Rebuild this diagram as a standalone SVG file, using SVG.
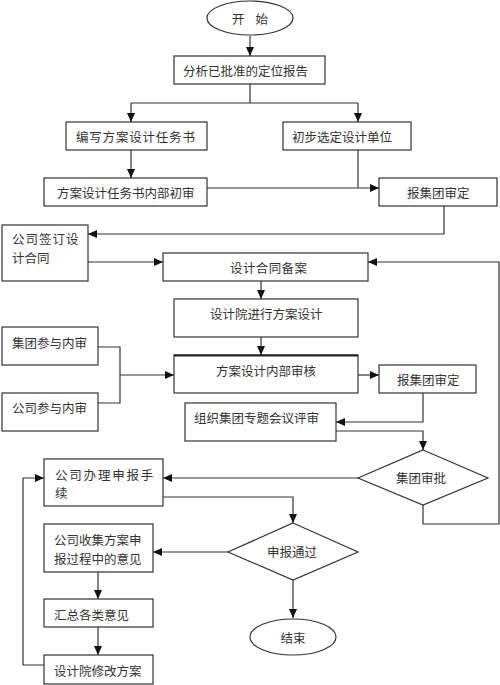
<svg xmlns="http://www.w3.org/2000/svg" width="500" height="685" viewBox="0 0 500 685">
<style>
.b{fill:#fff;stroke:#333;stroke-width:1.2}
.t{font-family:"Noto Sans CJK SC","Noto Sans CJK JP",sans-serif;font-size:12.5px;fill:#333;dominant-baseline:central}
.c{text-anchor:middle}
.l{fill:none;stroke:#333;stroke-width:1.2}
</style>
<defs>
<marker id="a" markerWidth="10" markerHeight="10" refX="9" refY="5" orient="auto" markerUnits="userSpaceOnUse"><path d="M0,1 L9,5 L0,9 Z" fill="#111"/></marker>
</defs>
<rect width="500" height="685" fill="#fff"/>
<g id="connectors">
<path class="l" d="M250,36 V56" marker-end="url(#a)"/>
<path class="l" d="M250,84 V103 M131,103 H358"/>
<path class="l" d="M131,103 V122" marker-end="url(#a)"/>
<path class="l" d="M358,103 V122" marker-end="url(#a)"/>
<path class="l" d="M131,150 V178" marker-end="url(#a)"/>
<path class="l" d="M358,150 V188"/>
<path class="l" d="M207,188 H379" marker-end="url(#a)"/>
<path class="l" d="M444,206 V234 H88" marker-end="url(#a)"/>
<path class="l" d="M88,262 H163" marker-end="url(#a)"/>
<path class="l" d="M261,281 V299" marker-end="url(#a)"/>
<path class="l" d="M261,337 V355" marker-end="url(#a)"/>
<path class="l" d="M98,347 H120 V403 H98"/>
<path class="l" d="M120,375 H174" marker-end="url(#a)"/>
<path class="l" d="M358,375 H379" marker-end="url(#a)"/>
<path class="l" d="M423,393 V422 H336" marker-end="url(#a)"/>
<path class="l" d="M336,431 H423 V450" marker-end="url(#a)"/>
<path class="l" d="M358,478 H163" marker-end="url(#a)"/>
<path class="l" d="M423,505 V524 H499 V262 H368" marker-end="url(#a)"/>
<path class="l" d="M163,497 H293 V523" marker-end="url(#a)"/>
<path class="l" d="M228,552 H153" marker-end="url(#a)"/>
<path class="l" d="M293,580 V618" marker-end="url(#a)"/>
<path class="l" d="M98,572 V599" marker-end="url(#a)"/>
<path class="l" d="M98,627 V655" marker-end="url(#a)"/>
<path class="l" d="M44,665 H23 V478 H44" marker-end="url(#a)"/>
</g>
<g id="start"><ellipse class="b" cx="250" cy="18" rx="43" ry="17"/><text class="t c" x="250" y="18" style="word-spacing:8px">开 始</text></g>
<g id="n1"><rect class="b" x="174" y="56" width="151" height="28"/><text class="t" x="183" y="70">分析已批准的定位报告</text></g>
<g id="n2"><rect class="b" x="66" y="122" width="141" height="28"/><text class="t" x="76" y="136" style="letter-spacing:0.8px">编写方案设计任务书</text></g>
<g id="n3"><rect class="b" x="283" y="122" width="128" height="28"/><text class="t" x="292" y="136">初步选定设计单位</text></g>
<g id="n4"><rect class="b" x="44" y="178" width="163" height="28"/><text class="t" x="57" y="192">方案设计任务书内部初审</text></g>
<g id="n5"><rect class="b" x="379" y="178" width="118" height="28"/><text class="t" x="407" y="192">报集团审定</text></g>
<g id="n6"><rect class="b" x="2" y="225" width="86" height="56"/><text class="t" x="12" y="238" style="letter-spacing:1px">公司签订设</text><text class="t" x="12" y="257">计合同</text></g>
<g id="n7"><rect class="b" x="163" y="253" width="205" height="28"/><text class="t" x="230" y="267" style="letter-spacing:0.4px">设计合同备案</text></g>
<g id="n8"><rect class="b" x="174" y="299" width="184" height="38"/><text class="t" x="210" y="313">设计院进行方案设计</text></g>
<g id="n9"><rect class="b" x="174" y="355" width="184" height="38"/><line x1="174" y1="355.5" x2="358" y2="355.5" stroke="#222" stroke-width="2"/><text class="t" x="216" y="370">方案设计内部审核</text></g>
<g id="n10"><rect class="b" x="2" y="327" width="96" height="38"/><text class="t" x="12" y="342">集团参与内审</text></g>
<g id="n11"><rect class="b" x="2" y="393" width="96" height="38"/><text class="t" x="12" y="407">公司参与内审</text></g>
<g id="n12"><rect class="b" x="379" y="365" width="97" height="28"/><text class="t" x="397" y="379">报集团审定</text></g>
<g id="n13"><rect class="b" x="185" y="403" width="151" height="38"/><text class="t" x="194" y="417">组织集团专题会议评审</text></g>
<g id="n14"><path class="b" d="M423,450 L488,478 L423,505 L358,478 Z"/><text class="t" x="396" y="477">集团审批</text></g>
<g id="n15"><rect class="b" x="44" y="459" width="119" height="47"/><text class="t" x="55" y="474" style="letter-spacing:1.8px">公司办理申报手</text><text class="t" x="55" y="492">续</text></g>
<g id="n16"><path class="b" d="M293,523 L358,552 L293,580 L228,552 Z"/><text class="t" x="267" y="551">申报通过</text></g>
<g id="n17"><rect class="b" x="44" y="524" width="109" height="48"/><text class="t" x="54" y="539">公司收集方案申</text><text class="t" x="54" y="558">报过程中的意见</text></g>
<g id="n18"><rect class="b" x="44" y="599" width="109" height="28"/><text class="t" x="54" y="614">汇总各类意见</text></g>
<g id="n19"><rect class="b" x="44" y="655" width="109" height="29"/><text class="t" x="54" y="670">设计院修改方案</text></g>
<g id="end"><ellipse class="b" cx="293" cy="637" rx="43" ry="18"/><text class="t c" x="293" y="637">结束</text></g>
</svg>
